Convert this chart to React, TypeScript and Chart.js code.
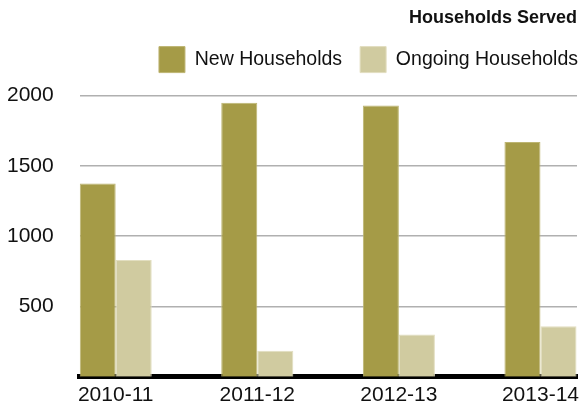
import React, { useEffect, useRef } from "react";
import { Chart, registerables } from "chart.js";

Chart.register(...registerables);

const categories = ["2010-11", "2011-12", "2012-13", "2013-14"];
const newHouseholds = [1375, 1950, 1930, 1670];
const ongoingHouseholds = [830, 185, 300, 360];
const yTicks = [500, 1000, 1500, 2000];

const legendShift = {
  id: "legendShift",
  afterInit(chart: any) {
    const lg = chart.legend;
    if (lg && !lg.__patched) {
      const orig = lg.fit;
      lg.fit = function (this: any) {
        orig.call(this);
        this.height += 13;
      };
      lg.__patched = true;
    }
  },
  afterLayout(chart: any) {
    if (chart.legend) {
      chart.legend.left += 19;
      chart.legend.right += 19;
    }
  },
};

export default function App() {
  const ref = useRef<HTMLCanvasElement | null>(null);

  useEffect(() => {
    if (!ref.current) return;
    const font = "'Liberation Sans', Arial, sans-serif";
    const chart = new Chart(ref.current, {
      type: "bar",
      data: {
        datasets: [
          {
            label: "New Households",
            data: categories.map((_, i) => ({ x: i, y: newHouseholds[i] })),
            backgroundColor: "#a59b47",
            borderColor: "#bdb572",
            borderWidth: 1,
          },
          {
            label: "Ongoing Households",
            data: categories.map((_, i) => ({ x: i, y: ongoingHouseholds[i] })),
            backgroundColor: "#d0cba0",
            borderColor: "#e2dec0",
            borderWidth: 1,
          },
        ],
      },
      plugins: [legendShift],
      options: {
        animation: false,
        responsive: true,
        maintainAspectRatio: false,
        categoryPercentage: 0.509,
        barPercentage: 1.0,
        layout: { padding: { left: 7, right: 5, top: 0, bottom: 0 } },
        plugins: {
          tooltip: { enabled: false },
          title: {
            display: true,
            text: "Households Served",
            align: "end",
            color: "#111",
            font: { family: font, size: 18, weight: "bold" },
            padding: { top: 7, bottom: 0 },
          },
          legend: {
            display: true,
            position: "top",
            align: "end",
            labels: {
              boxWidth: 26,
              boxHeight: 26,
              padding: 18,
              color: "#111",
              font: { family: font, size: 19.5 },
            },
          },
        },
        scales: {
          x: {
            type: "linear",
            offset: false,
            min: -0.254,
            max: 3.258,
            z: 1,
            grid: { display: false, drawTicks: false },
            border: { display: true, color: "#000", width: 5 },
            afterBuildTicks: (scale: any) => {
              scale.ticks = categories.map((_, i) => ({ value: i }));
            },
            afterFit: (scale: any) => {
              scale.paddingLeft = 0;
              scale.paddingRight = 0;
              scale.height = scale.height - 8;
            },
            ticks: {
              autoSkip: false,
              maxRotation: 0,
              padding: 6,
              color: "#111",
              font: { family: font, size: 21 },
              callback: (v: any) => categories[Math.round(Number(v))] ?? "",
            },
          },
          y: {
            min: 0,
            max: 2000,
            afterBuildTicks: (scale: any) => {
              scale.ticks = yTicks.map((v) => ({ value: v }));
            },
            afterFit: (scale: any) => {
              scale.paddingTop = 0;
              scale.paddingBottom = 0;
              scale.width = scale.width - 26;
            },
            grid: { color: "#b0b0b0", lineWidth: 1.5, drawTicks: false },
            border: { display: false },
            ticks: {
              padding: 26,
              color: "#111",
              font: { family: font, size: 21 },
              callback: (v: any) => String(v),
            },
          },
        },
      },
    });
    return () => chart.destroy();
  }, []);

  return (
    <div style={{ position: "fixed", left: 0, top: 0, width: 582, height: 406, background: "#fff" }}>
      <canvas ref={ref} />
    </div>
  );
}
